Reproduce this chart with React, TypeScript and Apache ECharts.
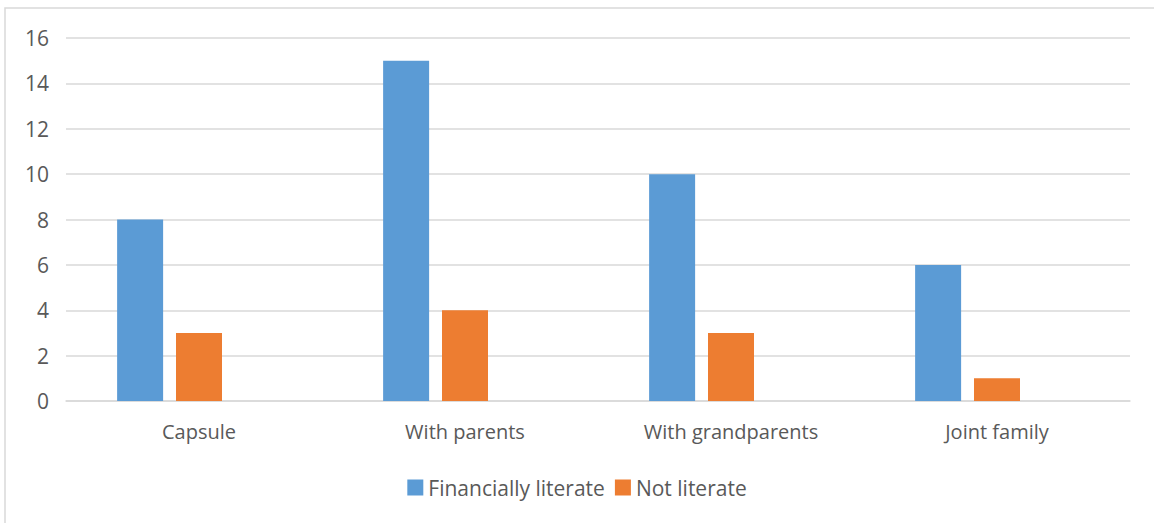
import React, { useEffect, useRef } from "react";
import * as echarts from "echarts";

const categories = ["Capsule", "With parents", "With grandparents", "Joint family"];
const financiallyLiterate = [8, 15, 10, 6];
const notLiterate = [3, 4, 3, 1];
const yTicks = { min: 0, max: 16, interval: 2 };

export default function App() {
  const ref = useRef<HTMLDivElement>(null);
  useEffect(() => {
    if (!ref.current) return;
    const chart = echarts.init(ref.current, null, { renderer: "svg" });
    const font = "'Open Sans', 'Liberation Sans', sans-serif";
    chart.setOption({
      animation: false,
      backgroundColor: "#ffffff",
      textStyle: { fontFamily: font },
      graphic: [
        {
          type: "rect",
          shape: { x: 5, y: 8, width: 1200, height: 600 },
          style: { fill: "none", stroke: "#d9d9d9", lineWidth: 1.5 },
          silent: true,
        },
      ],
      grid: { left: 66, right: 24, top: 38, bottom: 122 },
      legend: {
        top: 472,
        left: "center",
        itemWidth: 16,
        itemHeight: 16,
        itemGap: 10,
        icon: "rect",
        data: ["Financially literate", "Not literate"],
        textStyle: { fontSize: 21, color: "#595959", fontFamily: font },
      },
      xAxis: {
        type: "category",
        data: categories,
        axisLine: { lineStyle: { color: "#d9d9d9", width: 1.5 } },
        axisTick: { show: false },
        axisLabel: { fontSize: 20, color: "#595959", margin: 20, fontFamily: font },
      },
      yAxis: {
        type: "value",
        min: yTicks.min,
        max: yTicks.max,
        interval: yTicks.interval,
        axisLine: { show: false },
        axisTick: { show: false },
        splitLine: { lineStyle: { color: "#d9d9d9", width: 1.5 } },
        axisLabel: { fontSize: 21, color: "#595959", margin: 17, fontFamily: font },
      },
      series: [
        {
          name: "Financially literate",
          type: "bar",
          data: financiallyLiterate,
          barWidth: 46,
          barGap: "28%",
          itemStyle: { color: "#5b9bd5" },
        },
        {
          name: "Not literate",
          type: "bar",
          data: notLiterate,
          barWidth: 46,
          barGap: "28%",
          itemStyle: { color: "#ed7d31" },
        },
        {
          name: "_spacer",
          type: "bar",
          data: categories.map(() => null),
          barWidth: 46,
          barGap: "28%",
          itemStyle: { color: "#a5a5a5" },
        },
      ],
    });
    return () => chart.dispose();
  }, []);
  return (
    <div
      ref={ref}
      style={{ position: "fixed", left: 0, top: 0, width: 1154, height: 523 }}
    />
  );
}
